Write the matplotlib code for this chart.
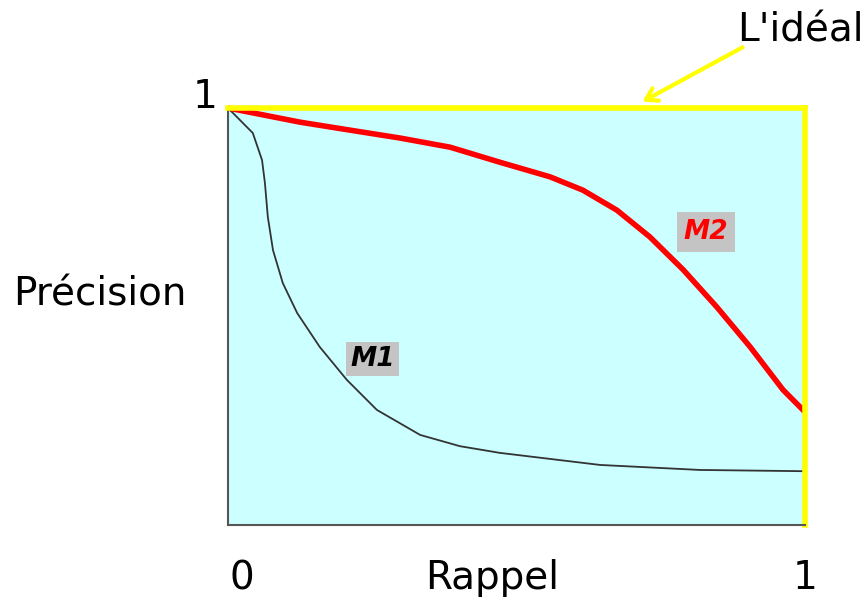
import matplotlib
matplotlib.use('Agg')
import matplotlib.pyplot as plt

# courbes M2 (rouge) et M1 (noire)
m2_rappel = [0, 0.125, 0.211, 0.298, 0.385, 0.471, 0.558, 0.615, 0.674, 0.731,
             0.789, 0.847, 0.905, 0.962, 1.0]
m2_precision = [1.0, 0.966, 0.947, 0.928, 0.906, 0.870, 0.835, 0.803, 0.755, 0.691,
                0.612, 0.523, 0.427, 0.324, 0.271]

m1_rappel = [0, 0.043, 0.059, 0.064, 0.069, 0.078, 0.095, 0.120, 0.159, 0.206,
             0.258, 0.333, 0.402, 0.471, 0.645, 0.818, 1.0]
m1_precision = [1.0, 0.940, 0.875, 0.820, 0.739, 0.659, 0.580, 0.508, 0.427, 0.348,
                0.276, 0.216, 0.189, 0.173, 0.144, 0.132, 0.129]

fig = plt.figure(figsize=(8.66, 5.98), dpi=100)
ax = fig.add_axes([228 / 866, 1 - 525 / 598, 577 / 866, 417 / 598])
ax.set_facecolor('#ccffff')
ax.set_xlim(0, 1)
ax.set_ylim(0, 1)
ax.set_xticks([])
ax.set_yticks([])

for s in ['left', 'bottom']:
  ax.spines[s].set_color('#555555')
  ax.spines[s].set_linewidth(1.5)
for s in ['top', 'right']:
  ax.spines[s].set_color('#ffff00')
  ax.spines[s].set_linewidth(4)

ax.plot(m1_rappel, m1_precision, color='#333333', lw=1.3, clip_on=False,
        solid_joinstyle='round')
ax.plot(m2_rappel, m2_precision, color='#ff0000', lw=4, clip_on=False,
        solid_joinstyle='round', solid_capstyle='butt')

ax.text(0.251, 0.398, 'M1', ha='center', va='center', fontsize=19,
        fontweight='bold', fontstyle='italic', color='black',
        bbox=dict(facecolor='#c4c4c4', edgecolor='none', pad=3))
ax.text(0.828, 0.703, 'M2', ha='center', va='center', fontsize=19,
        fontweight='bold', fontstyle='italic', color='#ff0000',
        bbox=dict(facecolor='#c4c4c4', edgecolor='none', pad=5))

fs = 28
fig.text(205 / 866, 1 - 97 / 598, '1', ha='center', va='center', fontsize=fs)
fig.text(100 / 866, 1 - 295 / 598, 'Précision', ha='center', va='center', fontsize=fs)
fig.text(242 / 866, 1 - 578 / 598, '0', ha='center', va='center', fontsize=fs)
fig.text(492 / 866, 1 - 578 / 598, 'Rappel', ha='center', va='center', fontsize=fs)
fig.text(805 / 866, 1 - 578 / 598, '1', ha='center', va='center', fontsize=fs)
fig.text(800 / 866, 1 - 30 / 598, "L'idéal", ha='center', va='center', fontsize=fs)

ax.annotate('', xy=(640 / 866, 1 - 103 / 598), xycoords='figure fraction',
            xytext=(745 / 866, 1 - 46 / 598), textcoords='figure fraction',
            arrowprops=dict(arrowstyle='->,head_length=0.8,head_width=0.5',
                            color='#ffff00', lw=3))

fig.savefig('out.png', dpi=100)
